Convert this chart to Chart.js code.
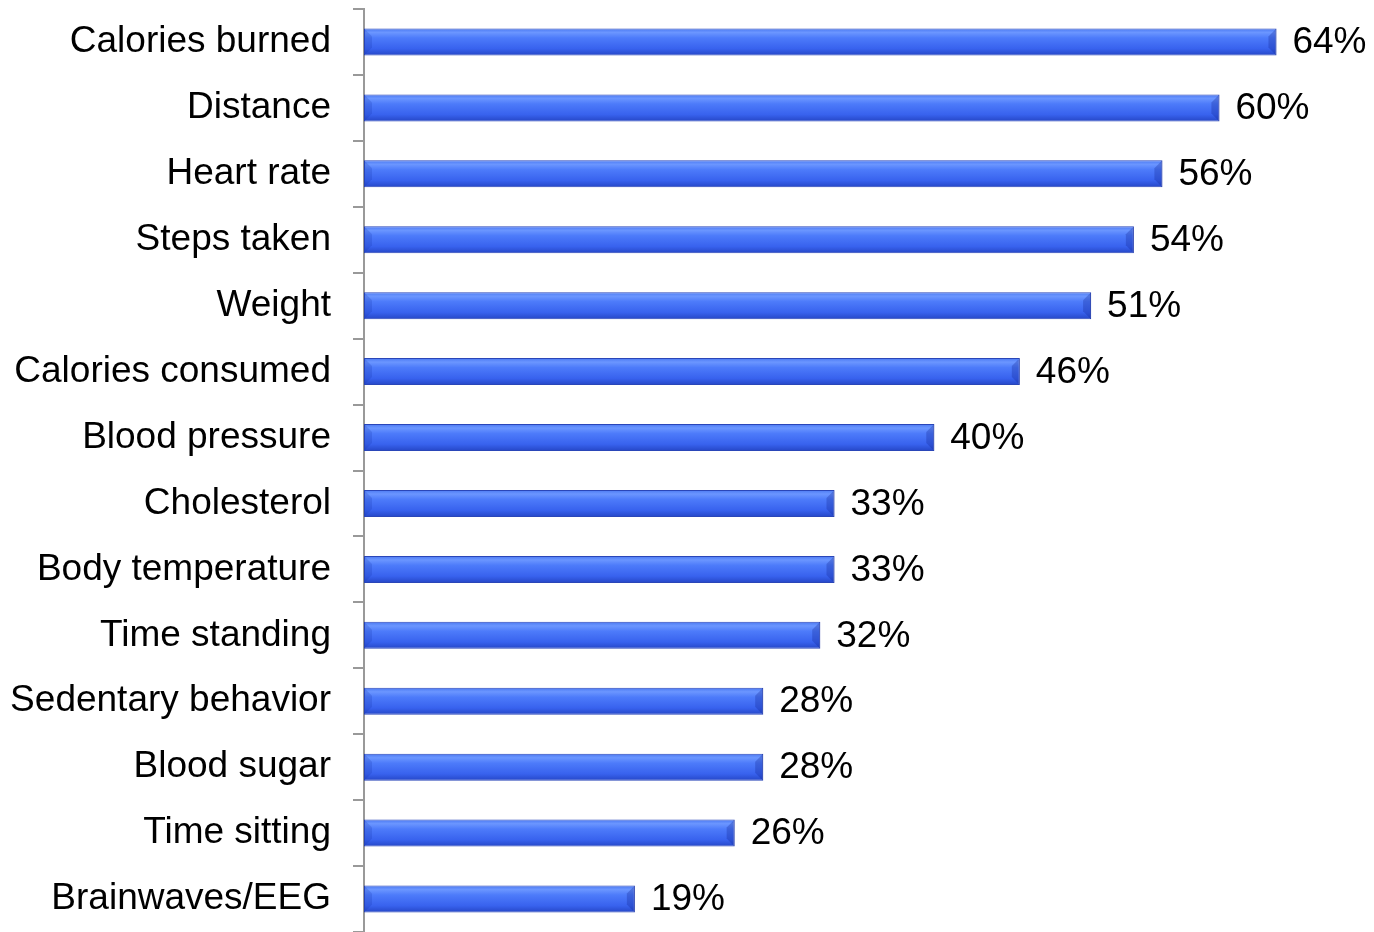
<!DOCTYPE html>
<html>
<head>
<meta charset="utf-8">
<script src="https://cdn.jsdelivr.net/npm/chart.js@4/dist/chart.umd.min.js"></script>
<style>
	html, body { margin: 0; padding: 0; background: #fff; }
	#wrap { width: 1374px; height: 932px; }
</style>
</head>
<body>
<div id="wrap"><canvas id="metricsChart"></canvas></div>
<script>
const categories = [
	"Calories burned", "Distance", "Heart rate", "Steps taken", "Weight",
	"Calories consumed", "Blood pressure", "Cholesterol", "Body temperature",
	"Time standing", "Sedentary behavior", "Blood sugar", "Time sitting", "Brainwaves/EEG"
];
const percentages = [64, 60, 56, 54, 51, 46, 40, 33, 33, 32, 28, 28, 26, 19];

const FONT = "'Liberation Sans', Arial, sans-serif";
const BAR_SHARE = 0.41;

// vertical gradient for each bar, built from the category scale
function barFill(ctx) {
	const chart = ctx.chart;
	const y = chart.scales && chart.scales.y;
	if (!y || ctx.dataIndex === undefined) return "#3a6cf5";
	const c = y.getPixelForValue(ctx.dataIndex);
	const step = Math.abs(y.getPixelForValue(1) - y.getPixelForValue(0));
	const h = step * BAR_SHARE / 2;
	if (!isFinite(c) || !isFinite(h)) return "#3a6cf5";
	const g = chart.ctx.createLinearGradient(0, c - h, 0, c + h);
	g.addColorStop(0, "#4a78f2");
	g.addColorStop(0.15, "#6b96ff");
	g.addColorStop(0.35, "#4d7bfa");
	g.addColorStop(0.75, "#3862ee");
	g.addColorStop(1, "#2546c6");
	return g;
}

// bevelled ends and the value text after each bar
const barDecor = {
	id: "barDecor",
	afterDatasetsDraw(chart) {
		const ctx = chart.ctx;
		const meta = chart.getDatasetMeta(0);
		ctx.save();
		meta.data.forEach((bar, i) => {
			const { x, y, base, height } = bar.getProps(["x", "y", "base", "height"], true);
			const top = y - height / 2;
			const bottom = y + height / 2;
			const b = Math.min(8, height / 3);

			ctx.fillStyle = "rgba(20, 40, 150, 0.3)";
			ctx.beginPath();
			ctx.moveTo(x, top);
			ctx.lineTo(x - b, top + b);
			ctx.lineTo(x - b, bottom - b);
			ctx.lineTo(x, bottom);
			ctx.closePath();
			ctx.fill();

			ctx.fillStyle = "rgba(20, 50, 170, 0.2)";
			ctx.beginPath();
			ctx.moveTo(base, top);
			ctx.lineTo(base + b, top + b);
			ctx.lineTo(base + b, bottom - b);
			ctx.lineTo(base, bottom);
			ctx.closePath();
			ctx.fill();

			ctx.fillStyle = "#000";
			ctx.font = `37px ${FONT}`;
			ctx.textAlign = "left";
			ctx.textBaseline = "middle";
			ctx.fillText(percentages[i] + "%", x + 16, y + 1);
		});
		ctx.restore();
	}
};

new Chart(document.getElementById("metricsChart"), {
	type: "bar",
	data: {
		labels: categories,
		datasets: [{
			data: percentages,
			backgroundColor: barFill,
			borderColor: "#2a46b8",
			borderWidth: 1,
			borderSkipped: false,
			categoryPercentage: BAR_SHARE,
			barPercentage: 1
		}]
	},
	options: {
		indexAxis: "y",
		responsive: true,
		maintainAspectRatio: false,
		animation: false,
		layout: { padding: { top: 9, right: 12, bottom: 0, left: 0 } },
		plugins: {
			legend: { display: false },
			tooltip: { enabled: false }
		},
		scales: {
			x: {
				display: false,
				min: 0,
				max: 70
			},
			y: {
				// fixed axis width, and no extra room reserved for the end labels
				afterFit: scale => {
					scale.width = 364;
					scale.paddingTop = 0;
					scale.paddingBottom = 0;
				},
				border: { display: true, color: "#999", width: 2 },
				grid: {
					drawOnChartArea: false,
					drawTicks: true,
					tickLength: 11,
					color: "#999",
					lineWidth: 2
				},
				ticks: {
					color: "#000",
					padding: 22,
					font: { family: FONT, size: 37 }
				}
			}
		}
	},
	plugins: [barDecor]
});
</script>
</body>
</html>
